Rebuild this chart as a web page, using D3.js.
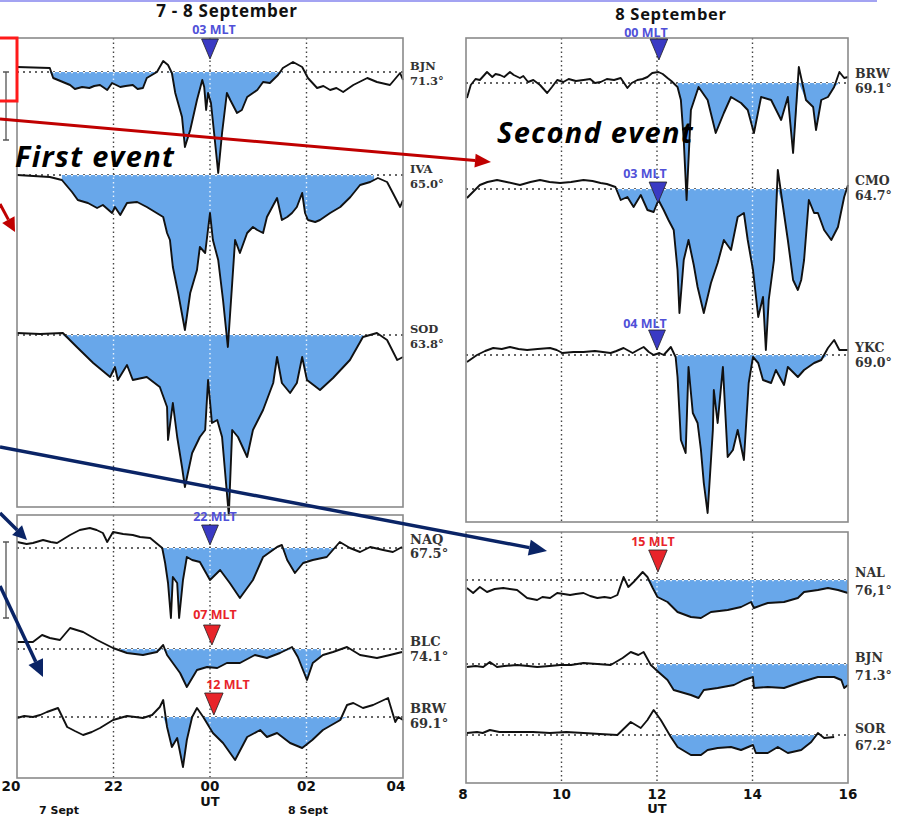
<!DOCTYPE html>
<html><head><meta charset="utf-8">
<script src="https://cdn.jsdelivr.net/npm/d3@7"></script>
<style>body{margin:0;background:#fff}svg{display:block}</style>
</head><body>
<svg id="fig" width="905" height="817"></svg>
<script>
// ---- data: [UT hour, deflection nT] ----
// left column: 7-8 Sept, UT 20 -> 04 (next day written as 24+)
const bjnL = [[20.00,50],[20.68,40],[20.75,-60],[21.10,-130],[21.20,-170],[21.35,-150],[21.50,-160],[21.60,-140],[21.72,-130],[21.87,-180],[21.97,-110],[22.14,-150],[22.25,-140],[22.40,-130],[22.50,-170],[22.61,-160],[22.69,-60],[22.90,0],[23.03,110],[23.13,70],[23.21,-10],[23.28,-210],[23.42,-450],[23.48,-750],[23.59,-580],[23.73,-280],[23.84,-80],[23.88,-150],[23.92,-380],[23.96,-210],[24.02,-310],[24.10,-680],[24.17,-1010],[24.25,-610],[24.35,-210],[24.42,-280],[24.56,-410],[24.66,-380],[24.77,-250],[24.98,-180],[25.10,-100],[25.24,-110],[25.41,-30],[25.51,40],[25.72,100],[25.91,50],[26.03,-60],[26.22,-160],[26.35,-140],[26.49,-180],[26.62,-160],[26.76,-200],[26.97,-130],[27.26,-60],[27.46,-100],[27.73,-130],[27.94,-10],[28.00,-80]];
const ivaL = [[20.00,0],[20.68,-20],[20.93,-50],[21.14,-170],[21.26,-250],[21.47,-280],[21.66,-330],[21.78,-300],[21.97,-380],[22.03,-320],[22.14,-400],[22.28,-280],[22.49,-270],[22.69,-320],[22.86,-370],[23.03,-420],[23.11,-580],[23.17,-650],[23.23,-920],[23.34,-1180],[23.48,-1550],[23.59,-1180],[23.73,-950],[23.79,-720],[23.90,-780],[24.00,-380],[24.06,-650],[24.17,-850],[24.27,-1250],[24.37,-1720],[24.46,-1080],[24.52,-650],[24.62,-780],[24.77,-580],[24.89,-520],[24.98,-550],[25.10,-580],[25.18,-420],[25.39,-230],[25.49,-450],[25.60,-420],[25.70,-380],[25.80,-320],[25.91,-180],[25.97,-380],[26.03,-450],[26.18,-470],[26.28,-450],[26.49,-380],[26.70,-320],[26.91,-220],[27.11,-100],[27.32,-70],[27.48,-30],[27.67,-70],[27.79,-180],[27.94,-320],[28.00,-250]];
const sodL = [[20.00,20],[20.48,10],[20.95,20],[21.24,-120],[21.58,-280],[21.93,-420],[22.03,-320],[22.09,-450],[22.28,-300],[22.40,-450],[22.69,-420],[22.96,-520],[23.11,-720],[23.13,-1050],[23.23,-680],[23.32,-1020],[23.42,-1320],[23.48,-1520],[23.63,-1180],[23.79,-1020],[23.90,-950],[23.96,-450],[24.04,-880],[24.15,-850],[24.25,-1020],[24.35,-1580],[24.39,-1800],[24.46,-950],[24.58,-1020],[24.77,-1220],[24.89,-950],[25.10,-750],[25.31,-480],[25.39,-220],[25.49,-480],[25.66,-580],[25.80,-480],[25.91,-220],[26.01,-450],[26.28,-550],[26.55,-430],[26.90,-250],[27.17,-20],[27.46,20],[27.67,-50],[27.88,-250],[28.00,-220]];
const naqL = [[20.00,30],[20.20,20],[20.33,25],[20.54,40],[20.70,30],[20.83,25],[21.10,65],[21.30,90],[21.51,100],[21.65,90],[21.78,75],[21.87,30],[21.99,80],[22.20,70],[22.40,65],[22.55,55],[22.76,50],[23.01,0],[23.07,-75],[23.13,-175],[23.19,-350],[23.23,-145],[23.32,-175],[23.36,-350],[23.44,-160],[23.52,-45],[23.63,-60],[23.79,-70],[24.00,-160],[24.21,-110],[24.41,-175],[24.62,-250],[24.89,-160],[25.10,-45],[25.39,5],[25.49,15],[25.60,-60],[25.76,-125],[25.93,-75],[26.13,-60],[26.42,-45],[26.69,30],[26.90,0],[27.11,-20],[27.32,5],[27.59,-10],[27.79,-20],[27.98,5]];
const blcL = [[20.00,35],[20.33,35],[20.52,70],[20.68,55],[20.89,45],[21.10,105],[21.37,85],[21.66,45],[21.99,5],[22.28,-20],[22.61,-30],[22.90,-15],[23.03,20],[23.11,-30],[23.38,-120],[23.52,-190],[23.73,-105],[23.94,-90],[24.15,-95],[24.35,-70],[24.62,-70],[24.93,-30],[25.18,-45],[25.45,-20],[25.70,10],[25.82,-40],[26.01,-155],[26.13,-70],[26.34,-30],[26.55,-15],[26.84,10],[27.11,-30],[27.46,-45],[27.73,-30],[27.98,-15]];
const brwL = [[20.00,-5],[20.15,5],[20.33,0],[20.48,10],[20.62,25],[20.85,45],[21.04,-50],[21.20,-70],[21.37,-90],[21.55,-75],[21.72,-55],[21.99,-15],[22.28,5],[22.45,0],[22.61,-5],[22.80,10],[22.96,50],[23.03,85],[23.11,-50],[23.21,-150],[23.32,-105],[23.44,-250],[23.52,-115],[23.63,0],[23.73,45],[23.86,0],[24.06,-80],[24.27,-130],[24.52,-215],[24.77,-100],[25.04,-65],[25.18,-100],[25.39,-80],[25.66,-130],[25.91,-155],[26.12,-115],[26.34,-65],[26.70,-15],[26.84,60],[26.97,70],[27.17,45],[27.38,60],[27.69,95],[27.84,-25],[27.90,0],[28.00,-15]];
// right column: 8 Sept, UT 08 -> 16
const brwR = [[8.02,-150],[8.10,-20],[8.20,40],[8.29,30],[8.44,110],[8.55,60],[8.62,90],[8.71,80],[8.80,60],[8.92,110],[9.00,80],[9.13,50],[9.20,70],[9.30,10],[9.41,30],[9.55,-20],[9.70,-100],[9.80,-40],[9.91,30],[10.04,10],[10.15,40],[10.30,20],[10.46,30],[10.60,40],[10.70,0],[10.82,10],[10.95,40],[11.10,30],[11.24,50],[11.38,-50],[11.47,0],[11.59,30],[11.70,40],[11.80,60],[11.90,100],[12.03,110],[12.12,90],[12.22,50],[12.30,20],[12.43,-40],[12.50,-170],[12.56,-570],[12.62,-1170],[12.71,-270],[12.87,-40],[13.06,-170],[13.23,-500],[13.40,-300],[13.55,-140],[13.76,-200],[13.90,-270],[14.03,-500],[14.18,-140],[14.39,-170],[14.60,-370],[14.74,-140],[14.85,-700],[14.97,160],[15.12,-170],[15.27,-240],[15.33,-470],[15.44,-170],[15.58,-140],[15.71,-40],[15.82,110],[15.92,50],[16.00,60]];
const cmoR = [[8.02,-90],[8.29,40],[8.45,70],[8.65,90],[8.85,70],[9.13,40],[9.35,70],[9.55,90],[9.75,70],[9.97,60],[10.20,70],[10.46,90],[10.65,80],[10.82,60],[10.95,50],[11.13,20],[11.24,-110],[11.38,-80],[11.51,-180],[11.66,-60],[11.80,-210],[11.93,-230],[12.03,-110],[12.14,-210],[12.24,-310],[12.35,-410],[12.43,-810],[12.47,-1240],[12.56,-710],[12.66,-510],[12.77,-760],[12.85,-980],[12.98,-1240],[13.13,-940],[13.27,-740],[13.40,-510],[13.55,-610],[13.69,-280],[13.82,-240],[13.90,-510],[14.01,-810],[14.12,-1280],[14.22,-1080],[14.28,-1610],[14.34,-1110],[14.45,-710],[14.53,190],[14.64,-180],[14.74,-510],[14.85,-910],[14.95,-1010],[15.02,-910],[15.08,-710],[15.18,-110],[15.29,-240],[15.37,-240],[15.50,-410],[15.65,-510],[15.79,-380],[15.92,-80],[16.00,40]];
const ykcR = [[8.02,-70],[8.23,0],[8.40,40],[8.57,70],[8.75,60],[8.92,80],[9.10,60],[9.28,50],[9.50,60],[9.76,70],[9.90,50],[10.02,20],[10.25,30],[10.46,30],[10.70,40],[11.03,20],[11.15,40],[11.30,70],[11.49,20],[11.60,50],[11.72,80],[11.83,30],[11.93,0],[12.05,20],[12.14,0],[12.29,80],[12.39,-20],[12.43,-220],[12.50,-850],[12.60,-980],[12.66,-120],[12.75,-580],[12.85,-680],[12.92,-950],[12.98,-1280],[13.06,-1580],[13.17,-750],[13.19,-350],[13.27,-680],[13.38,-120],[13.48,-1020],[13.59,-950],[13.69,-750],[13.82,-1050],[13.92,-280],[14.01,-20],[14.12,-80],[14.22,-250],[14.39,-280],[14.49,-150],[14.66,-300],[14.74,-120],[14.95,-220],[15.08,-150],[15.29,-80],[15.44,-50],[15.58,70],[15.71,150],[15.82,50],[16.00,50]];
const nalR = [[8.02,-40],[8.15,-65],[8.29,-35],[8.44,-60],[8.60,-45],[8.78,-40],[9.07,-50],[9.28,-90],[9.49,-100],[9.60,-85],[9.76,-90],[9.91,-65],[10.18,-75],[10.30,-70],[10.46,-65],[10.60,-80],[10.75,-90],[10.90,-85],[11.03,-90],[11.17,-75],[11.30,15],[11.40,-35],[11.51,-10],[11.70,40],[11.80,15],[11.91,-40],[12.01,-85],[12.22,-110],[12.43,-160],[12.71,-185],[12.92,-190],[13.13,-160],[13.48,-150],[13.76,-135],[13.97,-110],[14.03,-140],[14.32,-115],[14.66,-110],[14.95,-90],[15.08,-60],[15.37,-50],[15.58,-40],[15.79,-50],[16.00,-65]];
const bjnR = [[8.02,-15],[8.20,-10],[8.36,-15],[8.50,10],[8.65,-15],[8.80,-10],[9.07,-5],[9.30,-10],[9.49,-15],[9.75,-10],[9.97,-5],[10.20,-5],[10.46,5],[10.75,0],[11.03,-5],[11.28,30],[11.45,60],[11.61,45],[11.72,60],[11.87,-5],[12.03,-40],[12.22,-80],[12.35,-130],[12.71,-155],[12.87,-170],[12.98,-130],[13.27,-120],[13.61,-105],[13.82,-80],[14.01,-65],[14.03,-120],[14.32,-115],[14.66,-120],[15.02,-90],[15.37,-65],[15.71,-65],[15.86,-80],[15.92,-120],[16.00,-105]];
const sorR = [[8.02,10],[8.23,15],[8.35,10],[8.50,25],[8.70,15],[9.07,15],[9.40,15],[9.76,10],[10.10,15],[10.46,10],[10.80,5],[11.17,0],[11.45,65],[11.66,35],[11.80,75],[11.93,125],[12.08,75],[12.29,-10],[12.43,-60],[12.71,-100],[12.92,-100],[13.06,-75],[13.27,-65],[13.55,-60],[13.76,-75],[14.01,-50],[14.07,-90],[14.32,-90],[14.53,-60],[14.74,-90],[15.02,-75],[15.23,-35],[15.37,10],[15.50,-15],[15.71,-10]];

// shaded (event) intervals, UT hours
const spansTopL = [[20.68,25.51],[20.93,27.40],[20.95,27.17]];
const spansBotL = [[23.01,26.60],[21.99,26.30],[23.03,26.84]];
const spansTopR = [[12.43,15.82],[11.13,15.95],[12.39,15.71]];
const spansBotR = [[11.80,16.00],[12.00,16.00],[12.29,15.37]];

// station names / latitudes
const namesTopL = ['BJN','IVA','SOD'], latsTopL = ['71.3°','65.0°','63.8°'];
const namesBotL = ['NAQ','BLC','BRW'], latsBotL = ['67.5°','74.1°','69.1°'];
const namesTopR = ['BRW','CMO','YKC'], latsTopR = ['69.1°','64.7°','69.0°'];
const namesBotR = ['NAL','BJN','SOR'], latsBotR = ['76,1°','71.3°','67.2°'];

// ticks
const ticksL = [20,22,24,26,28], tickTextL = ['20','22','00','02','04'];
const ticksR = [8,10,12,14,16],  tickTextR = ['8','10','12','14','16'];

// MLT markers
const mltTopL = ['03 MLT'], mltBotL = ['22 MLT','07 MLT','12 MLT'];
const mltTopR = ['00 MLT','03 MLT','04 MLT'], mltBotR = ['15 MLT'];

const FILL = '#68a7ea', BLUE_T = '#3a3ac4', BLUE_TXT = '#5050d8', RED_T = '#e8242a';
const svg = d3.select('#fig');

// layout of the four panels
const panels = [
  {x0:17, x1:403, y0:38, y1:507, dom:[20,28], nTpx:10, series:[bjnL,ivaL,sodL], spans:spansTopL,
   names:namesTopL, lats:latsTopL, bases:[72,175,335], lab:[[70,85],[173,188],[333,348]], fs:11.5,
   grid:[22,24,26], mlt:mltTopL, mltPos:[{t:24, tx:214, ty:34, top:39, h:20, c:'b'}]},
  {x0:17, x1:403, y0:515, y1:778, dom:[20,28], nTpx:5, series:[naqL,blcL,brwL], spans:spansBotL,
   names:namesBotL, lats:latsBotL, bases:[548,649,717], lab:[[544,558],[646,661],[713,728]], fs:13,
   grid:[22,24,26], mlt:mltBotL, mltPos:[{t:24, tx:215, ty:521, top:525, h:20, c:'b'},
     {t:24.04, tx:215, ty:619, top:625, h:20, c:'r'},{t:24.08, tx:228, ty:689, top:693, h:22, c:'r'}]},
  {x0:466, x1:848, y0:38, y1:522, dom:[8,16], nTpx:10, series:[brwR,cmoR,ykcR], spans:spansTopR,
   names:namesTopR, lats:latsTopR, bases:[83,189,355], lab:[[78,93],[185,200],[352,367]], fs:12.5,
   grid:[10,12,14], mlt:mltTopR, mltPos:[{t:12.04, tx:646, ty:36.5, top:39, h:21, c:'b'},
     {t:12.02, tx:645, ty:178, top:182, h:21, c:'b'},{t:12.0, tx:645, ty:328, top:330, h:20, c:'b'}]},
  {x0:466, x1:848, y0:532, y1:783, dom:[8,16], nTpx:5, series:[nalR,bjnR,sorR], spans:spansBotR,
   names:namesBotR, lats:latsBotR, bases:[580,664,735], lab:[[577,595],[662,680],[733,750]], fs:12.5,
   grid:[10,12,14], mlt:mltBotR, mltPos:[{t:12.02, tx:653, ty:546, top:550, h:22, c:'r'}]}
];

function cut(data, a, b) {
  function at(t) {
    for (var i = 1; i < data.length; i++) {
      if (data[i][0] >= t) {
        var p = data[i-1], q = data[i], f = (t - p[0]) / (q[0] - p[0]);
        return [t, p[1] + f * (q[1] - p[1])];
      }
    }
    return [t, data[data.length-1][1]];
  }
  return [at(a)].concat(data.filter(function(d) { return d[0] > a && d[0] < b; }), [at(b)]);
}

// top purple rule
svg.append('line').attr('x1',0).attr('x2',877).attr('y1',1).attr('y2',1)
  .attr('stroke','#a3a3f2').attr('stroke-width',2);

panels.forEach(function(p, pi) {
  var x = d3.scaleLinear().domain(p.dom).range([p.x0, p.x1]);
  var dy = d3.scaleLinear().domain([0, -1000]).range([0, 1000 / p.nTpx]);
  var g = svg.append('g');

  // dark dotted grid + baselines
  g.selectAll('.grid').data(p.grid).enter().append('line')
    .attr('x1', function(d){ return x(d); }).attr('x2', function(d){ return x(d); })
    .attr('y1', p.y0).attr('y2', p.y1)
    .attr('stroke','#444').attr('stroke-width',1.4).attr('stroke-dasharray','1.5,3');
  g.selectAll('.base').data(p.bases).enter().append('line')
    .attr('x1', p.x0).attr('x2', p.x1).attr('y1', function(d){ return d; }).attr('y2', function(d){ return d; })
    .attr('stroke','#333').attr('stroke-width',1.3).attr('stroke-dasharray','2,4');

  // shaded negative bays
  var areas = p.series.map(function(s, i) {
    var base = p.bases[i];
    return d3.area().x(function(d){ return x(d[0]); }).y0(base)
      .y1(function(d){ return base + dy(Math.min(d[1], 0)); })(cut(s, p.spans[i][0], p.spans[i][1]));
  });
  var clipId = 'clip' + pi;
  svg.append('clipPath').attr('id', clipId).selectAll('path').data(areas).enter()
    .append('path').attr('d', function(d){ return d; });
  g.selectAll('.bay').data(areas).enter().append('path')
    .attr('d', function(d){ return d; }).attr('fill', FILL);

  // light dotted lines showing through the shading
  var gl = g.append('g').attr('clip-path', 'url(#' + clipId + ')');
  gl.selectAll('line.v').data(p.grid).enter().append('line')
    .attr('x1', function(d){ return x(d); }).attr('x2', function(d){ return x(d); })
    .attr('y1', p.y0).attr('y2', p.y1)
    .attr('stroke','#e8f2fc').attr('stroke-width',1.4).attr('stroke-dasharray','1.5,3');
  gl.selectAll('line.h').data(p.bases).enter().append('line')
    .attr('x1', p.x0).attr('x2', p.x1).attr('y1', function(d){ return d + 0.5; }).attr('y2', function(d){ return d + 0.5; })
    .attr('stroke','#e8f2fc').attr('stroke-width',1.3).attr('stroke-dasharray','2,4');

  // traces
  g.selectAll('.trace').data(p.series).enter().append('path')
    .attr('d', function(s, i) {
      var base = p.bases[i];
      return d3.line().x(function(d){ return x(d[0]); }).y(function(d){ return base + dy(d[1]); })(s);
    })
    .attr('fill','none').attr('stroke','#111').attr('stroke-width',1.9).attr('stroke-linejoin','round');

  // frame
  g.append('rect').attr('x', p.x0).attr('y', p.y0).attr('width', p.x1 - p.x0).attr('height', p.y1 - p.y0)
    .attr('fill','none').attr('stroke','#8a8a8a').attr('stroke-width',1.6);

  // station labels
  p.names.forEach(function(n, i) {
    g.append('text').attr('x', p.x1 + 7).attr('y', p.lab[i][0]).text(n)
      .attr('font-family','DejaVu Serif').attr('font-weight','bold').attr('font-size', p.fs).attr('fill','#333');
    g.append('text').attr('x', p.x1 + 7).attr('y', p.lab[i][1]).text(p.lats[i])
      .attr('font-family','DejaVu Serif').attr('font-weight','bold').attr('font-size', p.fs).attr('fill','#333');
  });

  // MLT markers
  p.mltPos.forEach(function(m, i) {
    var cx = x(m.t), half = m.h * 0.42;
    g.append('text').attr('x', m.tx).attr('y', m.ty).attr('text-anchor','middle').text(p.mlt[i])
      .attr('font-family','Open Sans').attr('font-weight','bold').attr('font-size', 12.5)
      .attr('fill', m.c === 'b' ? BLUE_TXT : RED_T);
    g.append('path')
      .attr('d', 'M' + (cx - half) + ',' + m.top + 'L' + (cx + half) + ',' + m.top + 'L' + cx + ',' + (m.top + m.h) + 'Z')
      .attr('fill', m.c === 'b' ? BLUE_T : RED_T).attr('stroke','#222').attr('stroke-width',0.8);
  });
});

// x axes under the bottom panels
var xl = d3.scaleLinear().domain([20,28]).range([17,403]);
var xr = d3.scaleLinear().domain([8,16]).range([466,848]);
var axisL = svg.append('g');
axisL.selectAll('text').data(ticksL).enter().append('text')
  .attr('x', function(d, i){ return xl(d) + (i === 0 ? -6 : i === 4 ? -7 : 0); }).attr('y', 791)
  .attr('text-anchor','middle').text(function(d, i){ return tickTextL[i]; })
  .attr('font-family','DejaVu Sans').attr('font-weight','bold').attr('font-size',13.5).attr('fill','#111');
var axisR = svg.append('g');
axisR.selectAll('text').data(ticksR).enter().append('text')
  .attr('x', function(d, i){ return xr(d) + (i === 0 ? -3 : 0); }).attr('y', 799)
  .attr('text-anchor','middle').text(function(d, i){ return tickTextR[i]; })
  .attr('font-family','DejaVu Sans').attr('font-weight','bold').attr('font-size',13.5).attr('fill','#111');
svg.append('text').attr('x', xl(24)).attr('y', 806).attr('text-anchor','middle').text('UT')
  .attr('font-family','DejaVu Sans').attr('font-weight','bold').attr('font-size',13).attr('fill','#111');
svg.append('text').attr('x', xr(12)).attr('y', 813).attr('text-anchor','middle').text('UT')
  .attr('font-family','DejaVu Sans').attr('font-weight','bold').attr('font-size',13).attr('fill','#111');
svg.append('text').attr('x', 59).attr('y', 814).attr('text-anchor','middle').text('7 Sept')
  .attr('font-family','DejaVu Sans').attr('font-weight','bold').attr('font-size',11).attr('fill','#111');
svg.append('text').attr('x', 308).attr('y', 814).attr('text-anchor','middle').text('8 Sept')
  .attr('font-family','DejaVu Sans').attr('font-weight','bold').attr('font-size',11).attr('fill','#111');

// titles
svg.append('text').attr('x', 227).attr('y', 17).attr('text-anchor','middle').text('7 - 8 September')
  .attr('font-family','Open Sans').attr('font-weight','bold').attr('font-size',17)
  .attr('letter-spacing',0.7).attr('fill','#111');
svg.append('text').attr('x', 671).attr('y', 20).attr('text-anchor','middle').text('8 September')
  .attr('font-family','Open Sans').attr('font-weight','bold').attr('font-size',16.5)
  .attr('letter-spacing',0.7).attr('fill','#111');

// scale bars at left edge (partly cut off)
[[72,140],[542,618]].forEach(function(b) {
  var sx = 6;
  svg.append('path').attr('d','M'+(sx-3)+','+b[0]+'H'+(sx+3)+'M'+sx+','+b[0]+'V'+b[1]+'M'+(sx-3)+','+b[1]+'H'+(sx+3))
    .attr('stroke','#555').attr('stroke-width',1.3).attr('fill','none');
});
svg.append('rect').attr('x',-3).attr('y',38).attr('width',20).attr('height',63)
  .attr('fill','none').attr('stroke','#ff1a1a').attr('stroke-width',3);

// annotation arrows
function arrow(x1, y1, x2, y2, col, w, hl, hw) {
  var a = Math.atan2(y2 - y1, x2 - x1), c = Math.cos(a), s = Math.sin(a);
  var bx = x2 - hl * c, by = y2 - hl * s;
  svg.append('line').attr('x1',x1).attr('y1',y1).attr('x2',bx).attr('y2',by)
    .attr('stroke',col).attr('stroke-width',w);
  svg.append('path').attr('d','M'+x2+','+y2+'L'+(bx - hw*s)+','+(by + hw*c)+'L'+(bx + hw*s)+','+(by - hw*c)+'Z')
    .attr('fill',col);
}
arrow(0,119,491,162,'#c00000',3,16,7);
arrow(0,204,15,232,'#c00000',3,14,7);
arrow(0,447,547,551,'#0a2466',3.5,18,8);
arrow(0,513,27,540,'#0a2466',3.5,14,7);
arrow(0,586,43,677,'#0a2466',3.5,17,8);

svg.append('text').attr('x',15).attr('y',167).text('First event')
  .attr('font-family','Open Sans').attr('font-style','italic').attr('font-weight','bold')
  .attr('font-size',29).attr('letter-spacing',1.3).attr('fill','#000');
svg.append('text').attr('x',497).attr('y',143).text('Second event')
  .attr('font-family','Open Sans').attr('font-style','italic').attr('font-weight','bold')
  .attr('font-size',29).attr('letter-spacing',1.3).attr('fill','#000');
</script>
</body></html>
